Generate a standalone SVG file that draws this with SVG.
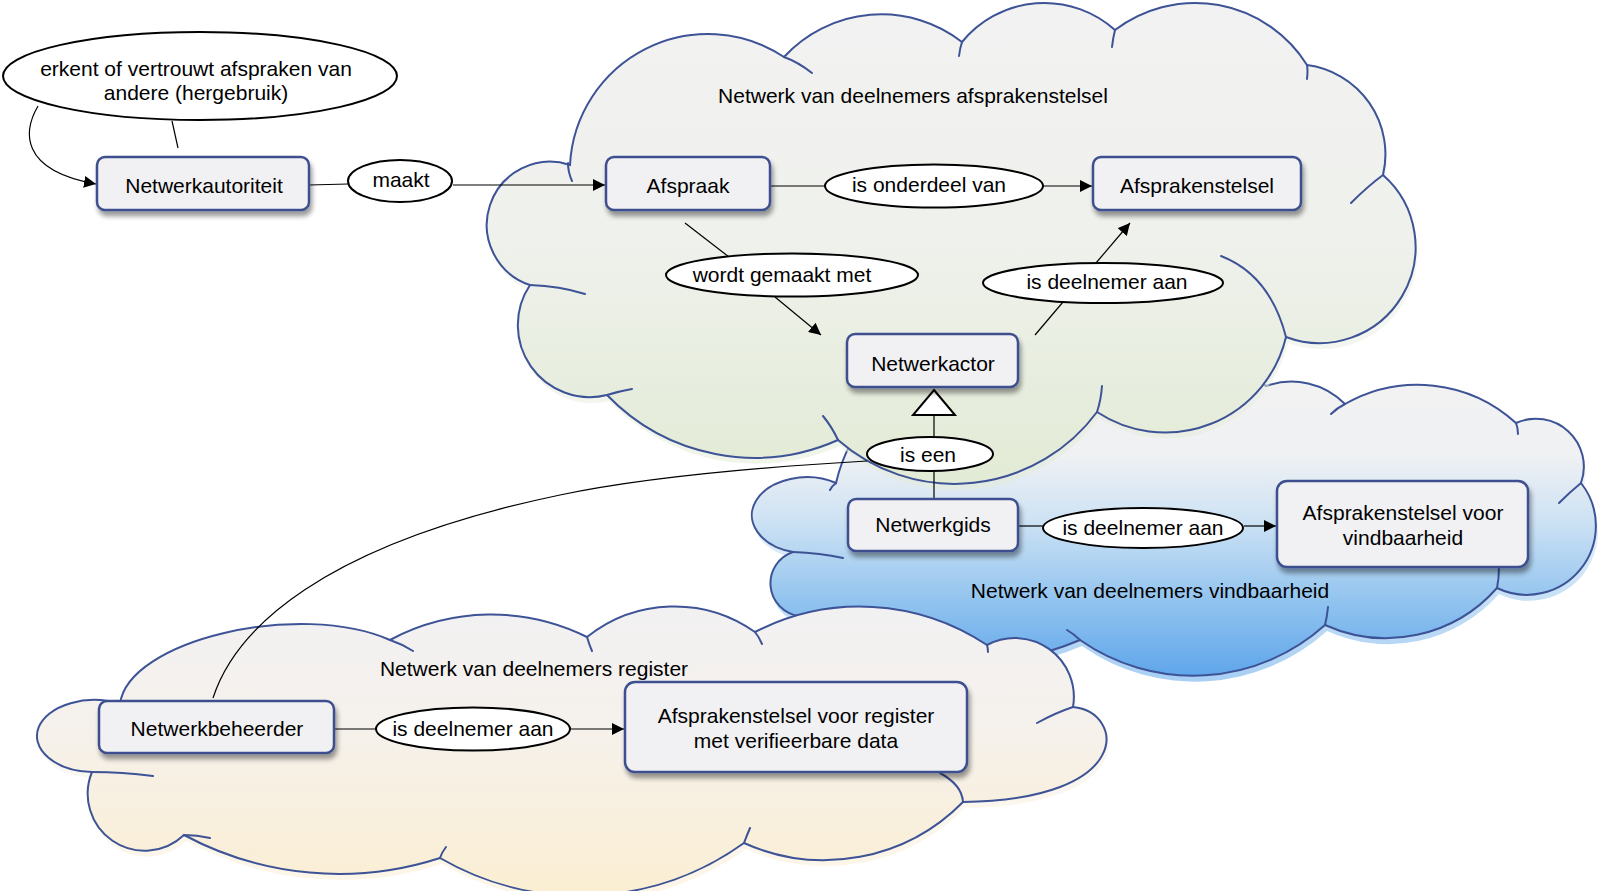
<svg xmlns="http://www.w3.org/2000/svg" xmlns:xlink="http://www.w3.org/1999/xlink" width="1616" height="891" viewBox="0 0 1616 891">
<defs>
<style>
.t{font-family:"Liberation Sans",Arial,sans-serif;font-size:21px;fill:#000;text-anchor:middle}
.box{fill:#f1f1f3;stroke:#3d4f8e;stroke-width:2.5;filter:url(#sh)}
.lbl{fill:#fff;stroke:#000;stroke-width:2}
.cl{stroke:#3d5396;stroke-width:2;}
.inner{fill:none;stroke:#3d5396;stroke-width:2;stroke-linecap:round}
.ln{fill:none;stroke:#000;stroke-width:1.2}
</style>
<filter id="sh" x="-20%" y="-30%" width="140%" height="170%">
<feGaussianBlur in="SourceAlpha" stdDeviation="2.5"/>
<feOffset dx="2" dy="5" result="o"/>
<feComponentTransfer><feFuncA type="linear" slope="0.4"/></feComponentTransfer>
<feMerge><feMergeNode/><feMergeNode in="SourceGraphic"/></feMerge>
</filter>
<marker id="arr" markerUnits="userSpaceOnUse" markerWidth="13" markerHeight="12" refX="12" refY="6" orient="auto">
<path d="M0,0 L12,6 L0,12 Z" fill="#000"/>
</marker>
<linearGradient id="gTop" x1="0" y1="0" x2="0" y2="1">
<stop offset="0" stop-color="#f2f2f2"/><stop offset="0.5" stop-color="#eff1ec"/><stop offset="1" stop-color="#e2ebd5"/>
</linearGradient>
<linearGradient id="gBlue" x1="0" y1="0" x2="0" y2="1">
<stop offset="0" stop-color="#f2f2f2"/><stop offset="0.3" stop-color="#f0f1f3"/><stop offset="0.5" stop-color="#cfe3f4"/><stop offset="0.75" stop-color="#95c5ef"/><stop offset="1" stop-color="#5fa6eb"/>
</linearGradient>
<linearGradient id="gReg" x1="0" y1="0" x2="0" y2="1">
<stop offset="0" stop-color="#f2f1f2"/><stop offset="0.4" stop-color="#f5f1ec"/><stop offset="1" stop-color="#fbeed2"/>
</linearGradient>
<path id="pBlue" d="M836,483 A158,158 0 0 1 1100,405 A117,117 0 0 1 1266,386 A75,75 0 0 1 1345,404 A146,146 0 0 1 1516,423 A48,48 0 0 1 1581,483 A69,69 0 0 1 1497,588 A148,148 0 0 1 1325,625 A197,197 0 0 1 1080,640 A302,302 0 0 1 799,616 A33,33 0 0 1 793,552 A55,38 0 1 1 836,483 Z"/>
<path id="pTop" d="M570,165 A138,138 0 0 1 784,57 A132,132 0 0 1 962,42 A106,106 0 0 1 1115,30 A132,132 0 0 1 1307,65 A90,90 0 0 1 1383,175 A96,96 0 0 1 1286,337 A124,124 0 0 1 1097,412 A177,177 0 0 1 838,440 A205,205 0 0 1 607,395 A72,72 0 0 1 530,285 A62,62 0 1 1 570,165 Z"/>
<path id="pReg" d="M120,704 C128,640 300,600 390,640 A215,215 0 0 1 587,637 A140,140 0 0 1 755,632 A229,229 0 0 1 987,645 A59,59 0 0 1 1073,707 C1125,712 1135,800 963,802 A195,195 0 0 1 744,843 A280,280 0 0 1 440,858 A328,328 0 0 1 184,835 A57,57 0 0 1 92,772 A57,36 0 1 1 120,704 Z"/>
</defs>
<rect width="1616" height="891" fill="#fff"/>

<g id="cloud-vindbaarheid">
<use xlink:href="#pBlue" href="#pBlue" transform="translate(2,6)" fill="url(#gBlue)" opacity="0.55"/>
<use xlink:href="#pBlue" href="#pBlue" fill="url(#gBlue)" class="cl"/>
<path class="inner" d="M1331,414 Q1337,408 1345,404 M1516,423 Q1518,428 1518,434 M1581,483 Q1570,492 1559,503 M1497,588 Q1499,578 1499,567 M1325,625 Q1327,617 1328,607 M1080,640 Q1074,634 1067,630 M793,552 Q820,553 843,558 M836,483 Q832,486 830,490"/>
<text class="t" x="1150" y="598">Netwerk van deelnemers vindbaarheid</text>
</g>

<g id="cloud-afsprakenstelsel">
<use xlink:href="#pTop" href="#pTop" transform="translate(2,6)" fill="url(#gTop)" opacity="0.55"/>
<use xlink:href="#pTop" href="#pTop" fill="url(#gTop)" class="cl"/>
<path class="inner" d="M568,163 Q568,172 572,181 M784,57 Q798,62 812,73 M962,42 Q960,48 959,56 M1115,30 Q1113,38 1112,47 M1307,65 Q1308,71 1307,79 M1383,175 Q1368,186 1351,203 M1221,256 Q1270,275 1286,337 M1097,412 Q1101,400 1102,386 M838,440 Q832,427 823,416 M607,395 Q620,391 632,389 M530,285 Q560,286 585,294"/>
<text class="t" x="913" y="103">Netwerk van deelnemers afsprakenstelsel</text>
</g>

<g id="cloud-register">
<use xlink:href="#pReg" href="#pReg" transform="translate(2,6)" fill="url(#gReg)" opacity="0.55"/>
<use xlink:href="#pReg" href="#pReg" fill="url(#gReg)" class="cl"/>
<path class="inner" d="M390,640 Q402,644 413,651 M587,637 Q589,644 592,651 M755,632 Q759,637 762,644 M987,645 Q988,648 988,652 M1073,707 Q1055,713 1037,723 M963,802 Q962,785 940,773 M744,843 Q747,835 750,828 M440,858 Q442,852 446,847 M184,835 Q197,835 210,838 M92,772 Q122,772 153,776"/>
<text class="t" x="534" y="676">Netwerk van deelnemers register</text>
</g>

<g id="connectors">
<path class="ln" d="M178,148 L172,121"/>
<path class="ln" d="M38,106 C24,130 18,170 96,184" marker-end="url(#arr)"/>
<path class="ln" d="M309,185 L348,184"/>
<path class="ln" d="M453,185 L605,185" marker-end="url(#arr)"/>
<path class="ln" d="M770,186 L825,186"/>
<path class="ln" d="M1043,186 L1092,186" marker-end="url(#arr)"/>
<path class="ln" d="M685,223 L729,257"/>
<path class="ln" d="M775,297 L821,335" marker-end="url(#arr)"/>
<path class="ln" d="M1035,335 L1063,302"/>
<path class="ln" d="M1096,263 L1130,223" marker-end="url(#arr)"/>
<path class="ln" d="M934,499 L934,471"/>
<path class="ln" d="M934,437 L934,415"/>
<path d="M934,390 L955,415 L913,415 Z" fill="#fff" stroke="#000" stroke-width="2" stroke-linejoin="miter"/>
<path class="ln" d="M213,698 C235,630 320,545 560,495 C650,476 780,466 867,461"/>
<path class="ln" d="M1018,526 L1043,526"/>
<path class="ln" d="M1244,526 L1276,526" marker-end="url(#arr)"/>
<path class="ln" d="M334,729 L376,729"/>
<path class="ln" d="M569,729 L624,729" marker-end="url(#arr)"/>
</g>

<g id="label-erkent">
<ellipse class="lbl" cx="200" cy="76" rx="197" ry="44"/>
<text class="t" x="196" y="76">erkent of vertrouwt afspraken van</text>
<text class="t" x="196" y="100">andere (hergebruik)</text>
</g>
<g id="label-maakt">
<ellipse class="lbl" cx="400" cy="181" rx="52" ry="21"/>
<text class="t" x="401" y="187">maakt</text>
</g>
<g id="label-onderdeel">
<ellipse class="lbl" cx="934" cy="186" rx="109" ry="21.5"/>
<text class="t" x="929" y="192">is onderdeel van</text>
</g>
<g id="label-gemaakt">
<ellipse class="lbl" cx="792" cy="275" rx="126" ry="21.5"/>
<text class="t" x="782" y="282">wordt gemaakt met</text>
</g>
<g id="label-deelnemer1">
<ellipse class="lbl" cx="1103" cy="283" rx="120" ry="20"/>
<text class="t" x="1107" y="289">is deelnemer aan</text>
</g>
<g id="label-iseen">
<ellipse class="lbl" cx="930" cy="454" rx="63" ry="17"/>
<text class="t" x="928" y="462">is een</text>
</g>
<g id="label-deelnemer2">
<ellipse class="lbl" cx="1143" cy="528" rx="100" ry="20"/>
<text class="t" x="1143" y="535">is deelnemer aan</text>
</g>
<g id="label-deelnemer3">
<ellipse class="lbl" cx="473" cy="729" rx="97" ry="21.5"/>
<text class="t" x="473" y="736">is deelnemer aan</text>
</g>

<g id="node-netwerkautoriteit">
<rect class="box" x="97" y="157" width="212" height="53" rx="8"/>
<text class="t" x="204" y="193">Netwerkautoriteit</text>
</g>
<g id="node-afspraak">
<rect class="box" x="606" y="157" width="164" height="53" rx="8"/>
<text class="t" x="688" y="193">Afspraak</text>
</g>
<g id="node-afsprakenstelsel">
<rect class="box" x="1093" y="157" width="208" height="53" rx="8"/>
<text class="t" x="1197" y="193">Afsprakenstelsel</text>
</g>
<g id="node-netwerkactor">
<rect class="box" x="847" y="334" width="171" height="53" rx="8"/>
<text class="t" x="933" y="371">Netwerkactor</text>
</g>
<g id="node-netwerkgids">
<rect class="box" x="848" y="499" width="170" height="52" rx="8"/>
<text class="t" x="933" y="532">Netwerkgids</text>
</g>
<g id="node-vindbaarheid">
<rect class="box" x="1277" y="481" width="251" height="86" rx="10"/>
<text class="t" x="1403" y="520">Afsprakenstelsel voor</text>
<text class="t" x="1403" y="545">vindbaarheid</text>
</g>
<g id="node-netwerkbeheerder">
<rect class="box" x="99" y="701" width="235" height="52" rx="8"/>
<text class="t" x="217" y="736">Netwerkbeheerder</text>
</g>
<g id="node-register">
<rect class="box" x="625" y="682" width="342" height="90" rx="10"/>
<text class="t" x="796" y="723">Afsprakenstelsel voor register</text>
<text class="t" x="796" y="748">met verifieerbare data</text>
</g>
</svg>
